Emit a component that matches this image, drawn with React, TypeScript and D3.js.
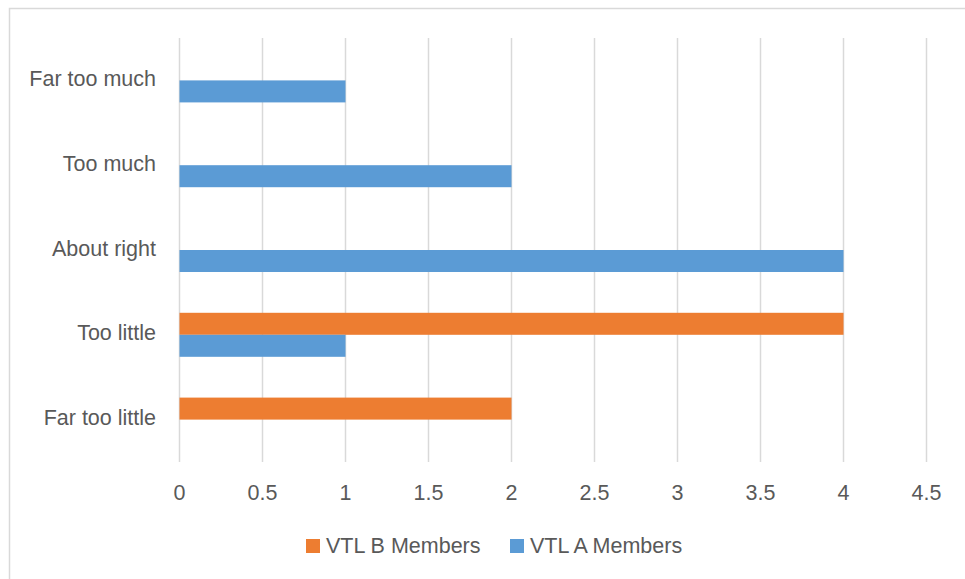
import React from "react";
import * as d3 from "d3";

const categories = ["Far too much", "Too much", "About right", "Too little", "Far too little"];
const seriesNames = ["VTL B Members", "VTL A Members"];
const seriesB = [0, 0, 0, 4, 2];
const seriesA = [1, 2, 4, 1, 0];
const xTicks = [0, 0.5, 1, 1.5, 2, 2.5, 3, 3.5, 4, 4.5];
const colors = ["#ED7D31", "#5B9BD5"];

const W = 965;
const H = 579;
const M = { left: 179.5, right: 926.5, top: 38, bottom: 462 };
const FONT = "'Liberation Sans', Arial, sans-serif";
const TEXT = "#595959";
const FS = 21.5;

export default function App() {
  const x = d3.scaleLinear().domain([0, 4.5]).range([M.left, M.right]);
  const y = d3
    .scaleBand<string>()
    .domain(categories)
    .range([M.top, M.bottom])
    .paddingInner(0.481)
    .paddingOuter(0.2405);
  const sub = d3.scaleBand<string>().domain(seriesNames).range([0, y.bandwidth()]);
  const data = [seriesB, seriesA];

  return (
    <svg width={W} height={H} style={{ position: "absolute", left: 0, top: 0, background: "#fff" }}>
      <rect x={0} y={0} width={W} height={H} fill="#fff" />
      <rect x={9.5} y={8.5} width={W + 20} height={H + 20} fill="none" stroke="#D9D9D9" strokeWidth={1.5} />
      {xTicks.map((t) => (
        <line key={t} x1={x(t)} x2={x(t)} y1={M.top} y2={M.bottom} stroke="#D9D9D9" strokeWidth={1.5} />
      ))}
      {data.map((vals, si) =>
        vals.map((v, ci) =>
          v > 0 ? (
            <rect
              key={`${si}-${ci}`}
              x={x(0)}
              y={(y(categories[ci]) as number) + (sub(seriesNames[si]) as number)}
              width={x(v) - x(0)}
              height={sub.bandwidth()}
              fill={colors[si]}
            />
          ) : null
        )
      )}
      {categories.map((c) => (
        <text
          key={c}
          x={156}
          y={(y(c) as number) + y.bandwidth() / 2 - 1.5}
          textAnchor="end"
          dominantBaseline="central"
          fontFamily={FONT}
          fontSize={FS}
          fill={TEXT}
        >
          {c}
        </text>
      ))}
      {xTicks.map((t) => (
        <text
          key={t}
          x={x(t)}
          y={492.5}
          textAnchor="middle"
          dominantBaseline="central"
          fontFamily={FONT}
          fontSize={FS}
          fill={TEXT}
        >
          {String(t)}
        </text>
      ))}
      {seriesNames.map((s, i) => {
        const lx = [306, 510][i];
        return (
          <g key={s}>
            <rect x={lx} y={539} width={14} height={14} fill={colors[i]} />
            <text
              x={lx + 20}
              y={545.5}
              dominantBaseline="central"
              fontFamily={FONT}
              fontSize={FS}
              fill={TEXT}
            >
              {s}
            </text>
          </g>
        );
      })}
    </svg>
  );
}
